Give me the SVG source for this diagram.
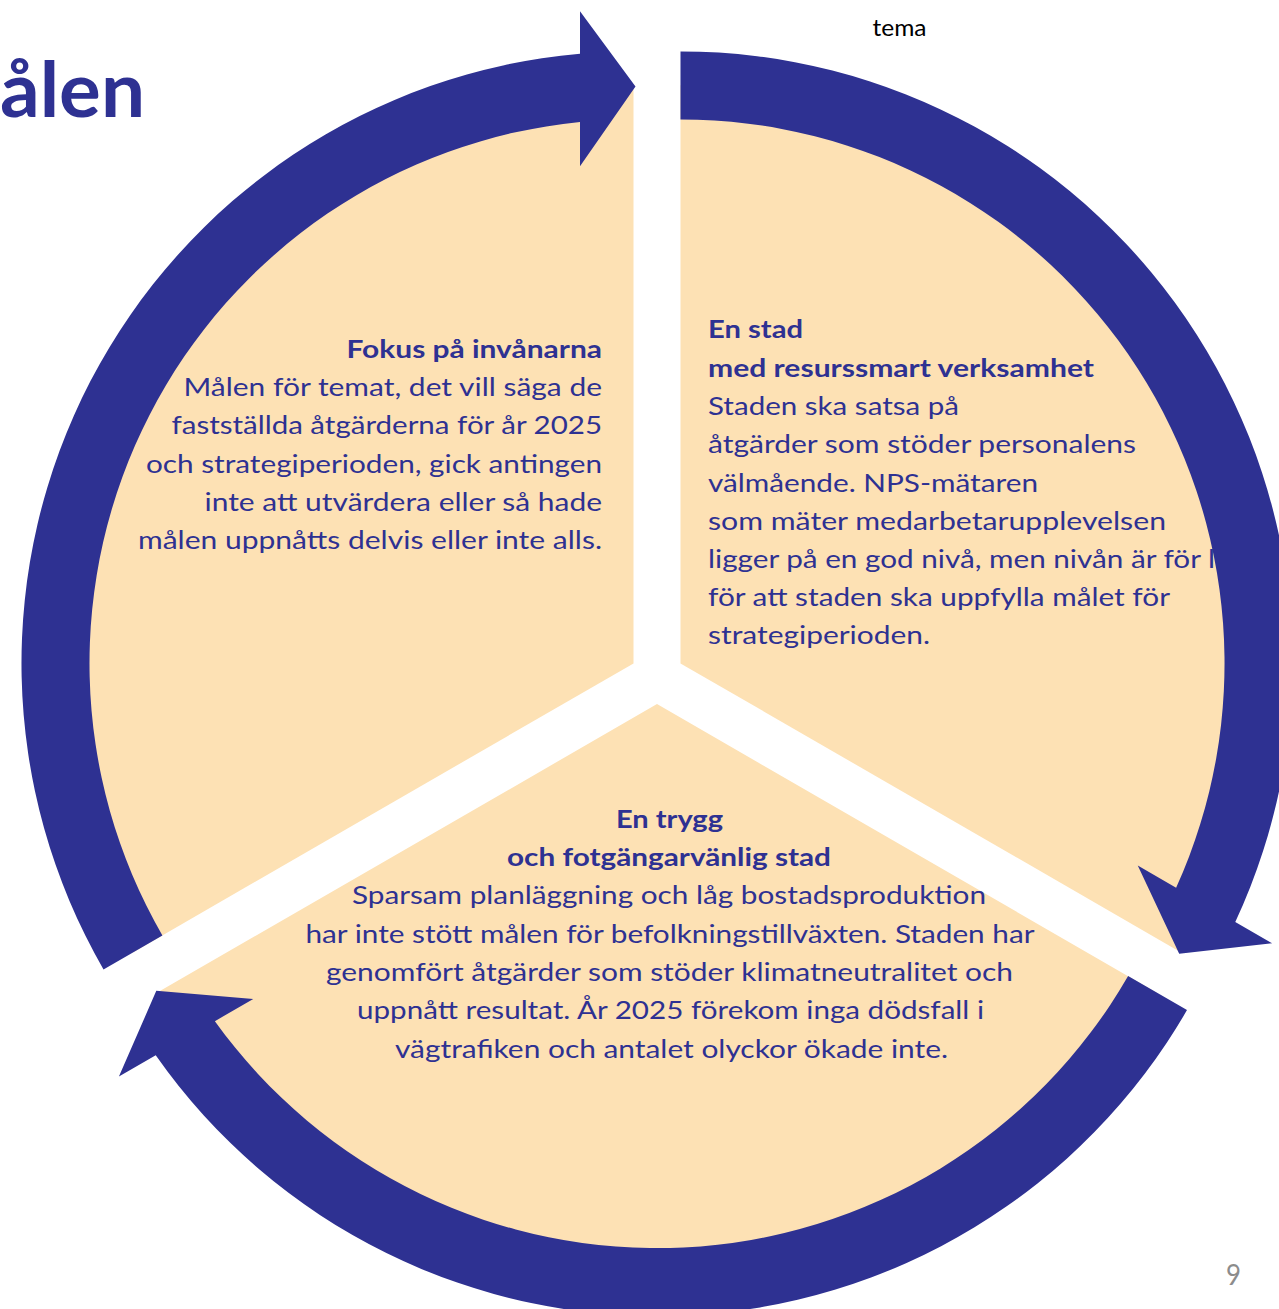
<svg xmlns="http://www.w3.org/2000/svg" width="1279" height="1309" viewBox="0 0 1279 1309">
<style>
.fill{fill:#FDE1B4}
.band{fill:#2E3192}
.t{font-family:Lato,"Open Sans","Liberation Sans",sans-serif;font-size:25px;fill:#2E3192}
.b{font-weight:700}
</style>
<defs>
<path id="wedge" d="M0,0 L-500.6,289 A578,578 0 0 1 0,-578 Z"/>
<path id="arrow" d="M-530,306 A612,612 0 0 1 -53.5,-609.7 L-53.5,-652.2 L2,-577 L-53.5,-497.1 L-53.5,-541.4 A544,544 0 0 0 -471.1,272 Z"/>
</defs>
<rect x="0" y="0" width="1279" height="1309" fill="#FFFFFF"/>
<text x="0" y="117" textLength="145" lengthAdjust="spacingAndGlyphs" class="t b" style="font-size:77px">ålen</text>
<text x="872.5" y="35.5" textLength="54" lengthAdjust="spacingAndGlyphs" style="font-family:Lato,'Open Sans',sans-serif;font-size:23px;fill:#000000">tema</text>
<text x="1226" y="1285" textLength="15" lengthAdjust="spacingAndGlyphs" style="font-family:Lato,'Open Sans',sans-serif;font-size:29px;fill:#8C8C8C">9</text>
<g id="node-fokus">
<use href="#wedge" class="fill" transform="translate(633.5,663.4)"/>
<text x="346.5" y="357.5" textLength="255.5" lengthAdjust="spacingAndGlyphs" class="t b">Fokus på invånarna</text>
<text x="183.5" y="396" textLength="418.5" lengthAdjust="spacingAndGlyphs" class="t">Målen för temat, det vill säga de</text>
<text x="171.5" y="434" textLength="430.5" lengthAdjust="spacingAndGlyphs" class="t">fastställda åtgärderna för år 2025</text>
<text x="146" y="472.5" textLength="456" lengthAdjust="spacingAndGlyphs" class="t">och strategiperioden, gick antingen</text>
<text x="204.5" y="511" textLength="397.5" lengthAdjust="spacingAndGlyphs" class="t">inte att utvärdera eller så hade</text>
<text x="138" y="549" textLength="464" lengthAdjust="spacingAndGlyphs" class="t">målen uppnåtts delvis eller inte alls.</text>
</g>
<g id="node-resurssmart">
<use href="#wedge" class="fill" transform="translate(680.5,663.4) rotate(120)"/>
<text x="708" y="338" textLength="95" lengthAdjust="spacingAndGlyphs" class="t b">En stad</text>
<text x="708" y="377" textLength="386" lengthAdjust="spacingAndGlyphs" class="t b">med resurssmart verksamhet</text>
<text x="708" y="415" textLength="251" lengthAdjust="spacingAndGlyphs" class="t">Staden ska satsa på</text>
<text x="708" y="453" textLength="428" lengthAdjust="spacingAndGlyphs" class="t">åtgärder som stöder personalens</text>
<text x="708" y="491.5" textLength="330" lengthAdjust="spacingAndGlyphs" class="t">välmående. NPS-mätaren</text>
<text x="708" y="529.5" textLength="458" lengthAdjust="spacingAndGlyphs" class="t">som mäter medarbetarupplevelsen</text>
<text x="708" y="568" textLength="507" lengthAdjust="spacingAndGlyphs" class="t">ligger på en god nivå, men nivån är för l</text>
<text x="708" y="606" textLength="462" lengthAdjust="spacingAndGlyphs" class="t">för att staden ska uppfylla målet för</text>
<text x="708" y="644" textLength="222" lengthAdjust="spacingAndGlyphs" class="t">strategiperioden.</text>
</g>
<g id="node-trygg">
<use href="#wedge" class="fill" transform="translate(657,704.1) rotate(240)"/>
<text x="616" y="827.5" textLength="107" lengthAdjust="spacingAndGlyphs" class="t b">En trygg</text>
<text x="507" y="866" textLength="324" lengthAdjust="spacingAndGlyphs" class="t b">och fotgängarvänlig stad</text>
<text x="352" y="904" textLength="634" lengthAdjust="spacingAndGlyphs" class="t">Sparsam planläggning och låg bostadsproduktion</text>
<text x="305.5" y="942.5" textLength="729" lengthAdjust="spacingAndGlyphs" class="t">har inte stött målen för befolkningstillväxten. Staden har</text>
<text x="326" y="981" textLength="687" lengthAdjust="spacingAndGlyphs" class="t">genomfört åtgärder som stöder klimatneutralitet och</text>
<text x="357" y="1019" textLength="627" lengthAdjust="spacingAndGlyphs" class="t">uppnått resultat. År 2025 förekom inga dödsfall i</text>
<text x="395" y="1057.5" textLength="553" lengthAdjust="spacingAndGlyphs" class="t">vägtrafiken och antalet olyckor ökade inte.</text>
</g>
<g id="connectors">
<use href="#arrow" class="band" transform="translate(633.5,663.4)"/>
<use href="#arrow" class="band" transform="translate(680.5,663.4) rotate(120)"/>
<use href="#arrow" class="band" transform="translate(657,704.1) rotate(240)"/>
</g>
</svg>
